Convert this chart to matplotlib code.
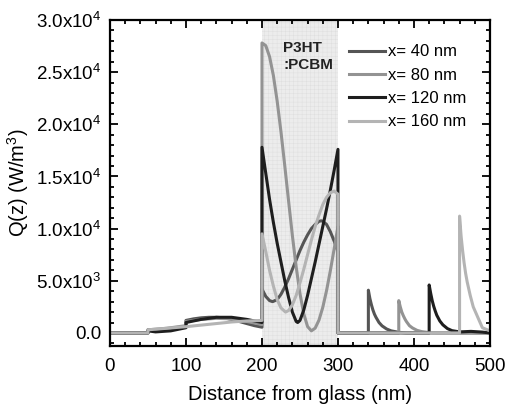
import matplotlib
matplotlib.use("Agg")
import matplotlib.pyplot as plt
from matplotlib.ticker import MultipleLocator

plt.rcParams['font.family'] = ['Liberation Sans', 'DejaVu Sans']
plt.rcParams['mathtext.default'] = 'regular'
plt.rcParams['hatch.linewidth'] = 0.3

# Q(z), one series per spacer thickness x
z40 = [0, 50, 50, 60, 70, 80, 90, 100, 100, 110, 120, 130, 140, 150, 160, 170, 180, 190, 200,
       200, 205, 210, 214, 220, 225, 230, 235, 240, 245, 250, 255, 260, 265, 270, 275, 278, 280,
       285, 290, 295, 300, 300, 340, 340, 342, 344, 346, 348, 350, 354, 358, 364, 370, 380, 390, 500]
q40 = [0, 0, 300, 250, 300, 400, 500, 600, 1200, 1350, 1450, 1500, 1500, 1450, 1300, 1100, 900, 700, 550,
       4200, 3500, 3100, 3000, 3200, 3700, 4400, 5200, 6100, 7000, 7900, 8700, 9400, 10000, 10400, 10700, 10750, 10700,
       10400, 9700, 8800, 7800, 0, 0, 4100, 3300, 2700, 2200, 1800, 1500, 1000, 680, 380, 200, 60, 0, 0]

z80 = [0, 50, 50, 75, 100, 100, 120, 140, 160, 180, 200,
       200, 205, 210, 215, 220, 225, 230, 235, 240, 245, 250, 255, 260, 265, 270, 275, 280, 285, 290, 295, 300,
       300, 380, 380, 382, 384, 386, 388, 390, 394, 398, 404, 410, 420, 430, 500]
q80 = [0, 0, 300, 450, 700, 1100, 1300, 1400, 1350, 1100, 800,
       27800, 27540, 26480, 24680, 22220, 19280, 16020, 12650, 9340, 6330, 3770, 1830, 610, 200, 460, 1230, 2450, 4070, 5980, 8070, 10200,
       0, 0, 3100, 2500, 2000, 1650, 1350, 1100, 700, 480, 250, 130, 30, 0, 0]

z120 = [0, 50, 50, 60, 80, 100, 100, 120, 140, 160, 180, 200,
        200, 205, 210, 215, 220, 225, 230, 235, 240, 245, 247, 250, 255, 260, 265, 270, 275, 280, 285, 290, 295, 300,
        300, 420, 420, 422, 424, 426, 428, 430, 434, 438, 444, 450, 460, 475, 490, 500]
q120 = [0, 0, 200, 100, 200, 500, 1000, 1300, 1500, 1500, 1300, 1000,
        17800, 15300, 12800, 10600, 8600, 6800, 5000, 3400, 2000, 1100, 1000, 1200, 2200, 3600, 5200, 6800, 8500, 10200, 11900, 13700, 15600, 17600,
        0, 0, 4600, 3800, 3100, 2550, 2100, 1700, 1150, 780, 420, 220, 100, 150, 80, 0]

z160 = [0, 50, 50, 75, 100, 120, 140, 160, 180, 200,
        200, 205, 210, 215, 220, 225, 231, 235, 240, 245, 250, 255, 260, 265, 270, 275, 280, 285, 290, 295, 300,
        300, 460, 460, 462, 464, 466, 468, 470, 474, 478, 484, 490, 500]
q160 = [0, 0, 300, 450, 600, 750, 900, 1050, 1150, 1200,
        9500, 7800, 6000, 4500, 3200, 2400, 2000, 2150, 2700, 3600, 4800, 6100, 7500, 8900, 10200, 11300, 12300, 13000, 13450, 13600, 13300,
        0, 0, 11200, 9300, 7900, 6700, 5700, 4900, 3600, 2500, 1500, 500, 200]

labels = ["x= 40 nm", "x= 80 nm", "x= 120 nm", "x= 160 nm"]
colors = ["#555555", "#939393", "#1e1e1e", "#b4b4b4"]

yticks = [0, 5000, 10000, 15000, 20000, 25000, 30000]
yticklabels = ["0.0", "5.0x10$^3$", "1.0x10$^4$", "1.5x10$^4$", "2.0x10$^4$", "2.5x10$^4$", "3.0x10$^4$"]
xticks = [0, 100, 200, 300, 400, 500]

fig = plt.figure(figsize=(5.08, 4.08), dpi=100)
ax = fig.add_axes([0.2165, 0.152, 0.748, 0.799])

# active layer
ax.axvspan(200, 300, facecolor="#ececec", edgecolor="#dddddd", hatch="++++", zorder=0, lw=0)
ax.text(228, 28000, "P3HT\n:PCBM", fontsize=11, fontweight="bold", ha="left", va="top",
        linespacing=1.3, color="#222222")

for z, q, lab, c in zip([z40, z80, z120, z160], [q40, q80, q120, q160], labels, colors):
    ax.plot(z, q, color=c, lw=2.2, label=lab)

ax.set_xlim(0, 500)
ax.set_ylim(-1250, 30000)
ax.set_xticks(xticks)
ax.set_yticks(yticks)
ax.set_yticklabels(yticklabels)
ax.xaxis.set_minor_locator(MultipleLocator(20))
ax.yaxis.set_minor_locator(MultipleLocator(1000))
ax.tick_params(which="both", direction="in", top=True, right=True, width=1.3, labelsize=13.5)
ax.tick_params(which="major", length=5.5)
ax.tick_params(which="minor", length=3)
ax.tick_params(axis="x", which="major", pad=9)
ax.tick_params(axis="y", which="major", pad=6)
for s in ax.spines.values():
    s.set_linewidth(1.6)

ax.set_xlabel("Distance from glass (nm)", fontsize=14.5, labelpad=7)
ax.set_ylabel("Q(z) (W/m$^3$)", fontsize=14.5, labelpad=4)

ax.legend(loc="upper left", bbox_to_anchor=(0.628, 0.925), frameon=False, fontsize=12,
          handlelength=2.2, handletextpad=0.15, labelspacing=0.5, borderpad=0, borderaxespad=0)

fig.savefig("out.png", dpi=100)
